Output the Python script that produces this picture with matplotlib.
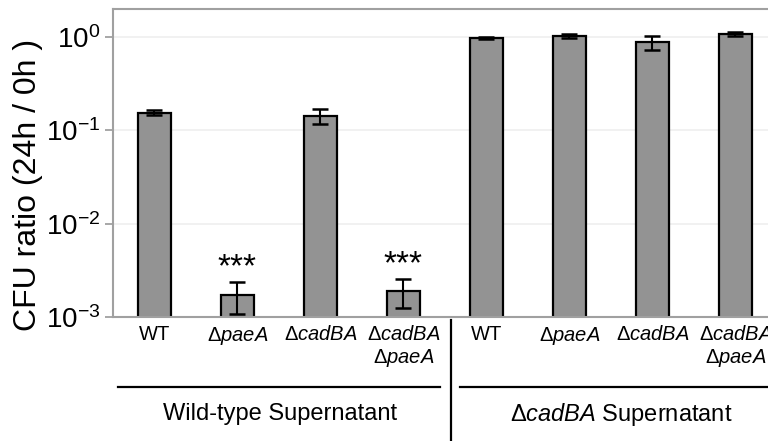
import matplotlib.pyplot as plt
from matplotlib.lines import Line2D

plt.rcParams['font.family'] = ['Liberation Sans', 'DejaVu Sans']
plt.rcParams['mathtext.fontset'] = 'custom'
plt.rcParams['mathtext.rm'] = 'Liberation Sans'
plt.rcParams['mathtext.it'] = 'Liberation Sans:italic'

# strains (tick labels) and CFU ratio values
labels = ['WT', r'Δ$\it{paeA}$', r'Δ$\it{cadBA}$', 'Δ$\\it{cadBA}$\nΔ$\\it{paeA}$',
          'WT', r'Δ$\it{paeA}$', r'Δ$\it{cadBA}$', 'Δ$\\it{cadBA}$\nΔ$\\it{paeA}$']
means = [0.155, 1.72e-3, 0.143, 1.9e-3, 0.97, 1.02, 0.88, 1.08]
errs = [0.009, 0.65e-3, 0.025, 0.65e-3, 0.02, 0.05, 0.15, 0.05]
stars = ['', '***', '', '***', '', '', '', '']
groups = ['Wild-type Supernatant', r'Δ$\it{cadBA}$ Supernatant']
yticks = [1e-3, 1e-2, 1e-1, 1e0]
yticklabels = [r'$10^{-3}$', r'$10^{-2}$', r'$10^{-1}$', r'$10^{0}$']

fig = plt.figure(figsize=(7.68, 4.41), dpi=100)
ax = fig.add_axes([0.1471, 0.2812, 0.8646, 0.6984])

x = list(range(len(means)))
ax.bar(x, means, width=0.4, color='#939393', edgecolor='black', linewidth=1.6, zorder=2)
ax.errorbar(x, means, yerr=errs, fmt='none', ecolor='black', elinewidth=1.5,
            capsize=5.5, capthick=1.8, zorder=3)

for xi, m, e, s in zip(x, means, errs, stars):
    if s:
        ax.annotate(s, (xi, m + e), xytext=(0, 10), textcoords='offset points',
                    ha='center', va='center', fontsize=24)

ax.set_yscale('log')
ax.set_ylim(1e-3, 2)
ax.set_xlim(-0.5, 7.5)
ax.set_yticks(yticks)
ax.set_yticklabels(yticklabels)
ax.minorticks_off()
ax.yaxis.grid(True, color='#efefef', linewidth=1.2)
ax.set_axisbelow(True)

ax.set_xticks(x)
ax.set_xticklabels(labels, fontsize=14.5, linespacing=1.15)
ax.tick_params(axis='x', length=0, pad=6)
ax.tick_params(axis='y', length=6, width=1.3, color='#a0a0a0', labelsize=20, pad=3)

for sp in ['top', 'left', 'bottom']:
    ax.spines[sp].set_color('#a0a0a0')
    ax.spines[sp].set_linewidth(1.5)
ax.spines['right'].set_visible(False)

ax.set_ylabel('CFU ratio (24h / 0h )', fontsize=23)
ax.yaxis.set_label_coords(-0.105, 0.43)

# group brackets below the tick labels
tr = ax.get_xaxis_transform()
for x0, x1 in [(-0.44, 3.44), (3.68, 7.6)]:
    ax.add_line(Line2D([x0, x1], [-0.227, -0.227], transform=tr, color='black',
                       linewidth=1.6, clip_on=False))
ax.add_line(Line2D([3.57, 3.57], [-0.01, -0.42], transform=tr, color='black',
                   linewidth=1.6, clip_on=False))
ax.text(1.51, -0.315, groups[0], transform=tr, ha='center', va='center', fontsize=17)
ax.text(5.63, -0.315, groups[1], transform=tr, ha='center', va='center', fontsize=17)

fig.savefig('out.png', dpi=100)
